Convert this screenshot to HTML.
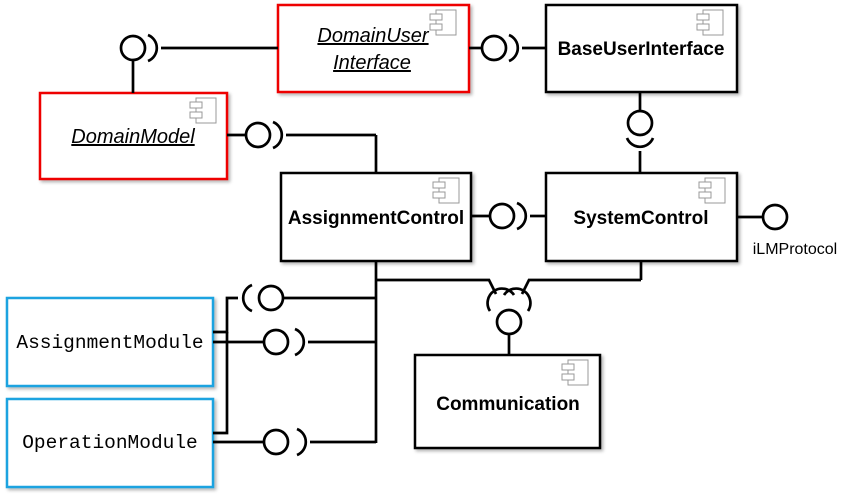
<!DOCTYPE html>
<html><head><meta charset="utf-8"><style>
body{margin:0;background:#fff;width:850px;height:496px;overflow:hidden}
svg text{font-family:"Liberation Sans",sans-serif}
</style></head><body>
<svg width="850" height="496" viewBox="0 0 850 496" xmlns="http://www.w3.org/2000/svg">
<defs>
<filter id="sh" x="-5%" y="-5%" width="115%" height="120%"><feDropShadow dx="2" dy="2" stdDeviation="1.5" flood-color="#000" flood-opacity="0.3"/></filter>
<g id="ic"><rect x="6" y="0" width="20" height="25" fill="none" stroke="#999" stroke-width="1"/><rect x="0" y="4" width="12" height="6" fill="#fff" stroke="#999"/><rect x="0" y="14" width="12" height="6" fill="#fff" stroke="#999"/></g>
</defs>
<g fill="#fff" stroke-width="2.5">
<rect x="278" y="5" width="191" height="87" stroke="#e00" filter="url(#sh)"/>
<rect x="546" y="5" width="191" height="87" stroke="#000" filter="url(#sh)"/>
<rect x="40" y="93" width="187" height="86" stroke="#e00" filter="url(#sh)"/>
<rect x="281" y="173" width="190" height="88" stroke="#000" filter="url(#sh)"/>
<rect x="546" y="173" width="191" height="88" stroke="#000" filter="url(#sh)"/>
<rect x="415" y="355" width="185" height="93" stroke="#000" filter="url(#sh)"/>
<rect x="7" y="298" width="206" height="88" stroke="#1aa3e0" filter="url(#sh)"/>
<rect x="7" y="399" width="206" height="88" stroke="#1aa3e0" filter="url(#sh)"/>
</g>
<use href="#ic" x="430" y="10"/>
<use href="#ic" x="697" y="10"/>
<use href="#ic" x="190" y="98"/>
<use href="#ic" x="433" y="178"/>
<use href="#ic" x="699" y="178"/>
<use href="#ic" x="562" y="360"/>
<g fill="none" stroke="#000" stroke-width="2.7">
<circle cx="133" cy="48" r="12"/><path d="M148 35 A14 14 0 0 1 148 61"/>
<line x1="161" y1="48" x2="278" y2="48"/><line x1="133" y1="60" x2="133" y2="93"/>
<line x1="469" y1="48" x2="482" y2="48"/><circle cx="494" cy="48" r="12"/><path d="M509 35 A14 14 0 0 1 509 61"/><line x1="522" y1="48" x2="546" y2="48"/>
<line x1="640" y1="92" x2="640" y2="111"/><circle cx="640" cy="123" r="12"/><path d="M627 138 A14 14 0 0 0 653 138"/><line x1="640" y1="151" x2="640" y2="173"/>
<line x1="227" y1="135" x2="246" y2="135"/><circle cx="258" cy="135" r="12"/><path d="M273 122 A14 14 0 0 1 273 148"/><line x1="286" y1="135" x2="376" y2="135"/><line x1="376" y1="135" x2="376" y2="173"/>
<line x1="471" y1="216" x2="490" y2="216"/><circle cx="502" cy="216" r="12"/><path d="M517 203 A14 14 0 0 1 517 229"/><line x1="530" y1="216" x2="546" y2="216"/>
<line x1="737" y1="217" x2="763" y2="217"/><circle cx="775" cy="217" r="12"/>
<line x1="376" y1="261" x2="376" y2="443"/>
<line x1="641" y1="261" x2="641" y2="280"/>
<path d="M376 280 H489 L496 294"/><path d="M641 280 H529 L522 294"/>
<path d="M490 311 A14 14 0 0 1 514 295"/><path d="M504 295 A14 14 0 0 1 528 311"/>
<circle cx="509" cy="322" r="12"/><line x1="509" y1="334" x2="509" y2="355"/>
<path d="M213 332 H227 V298 H238"/><path d="M213 433 H227 V332"/>
<path d="M252 285 A14 14 0 0 0 252 311"/><circle cx="271" cy="298" r="12"/><line x1="283" y1="298" x2="376" y2="298"/>
<line x1="213" y1="342" x2="264" y2="342"/><circle cx="276" cy="342" r="12"/><path d="M295 329 A14 14 0 0 1 295 355"/><line x1="308" y1="342" x2="376" y2="342"/>
<line x1="213" y1="442" x2="264" y2="442"/><circle cx="276" cy="442" r="12"/><path d="M297 429 A14 14 0 0 1 297 455"/><line x1="310" y1="442" x2="376" y2="442"/>
</g>
<g text-anchor="middle">
<text x="373" y="42" font-size="20" font-style="italic" text-decoration="underline">DomainUser</text>
<text x="372" y="69" font-size="20" font-style="italic" text-decoration="underline">Interface</text>
<text x="133" y="143" font-size="20" font-style="italic" text-decoration="underline">DomainModel</text>
<text x="641" y="55" font-weight="bold" font-size="19">BaseUserInterface</text>
<text x="376" y="224" font-weight="bold" font-size="19">AssignmentControl</text>
<text x="641" y="224" font-weight="bold" font-size="19">SystemControl</text>
<text x="508" y="410" font-weight="bold" font-size="19">Communication</text>
<text x="110" y="348" font-size="19.5" style="font-family:'Liberation Mono',monospace">AssignmentModule</text>
<text x="110" y="448" font-size="19.5" style="font-family:'Liberation Mono',monospace">OperationModule</text>
<text x="795" y="254" font-size="16">iLMProtocol</text>
</g>
</svg>
</body></html>
